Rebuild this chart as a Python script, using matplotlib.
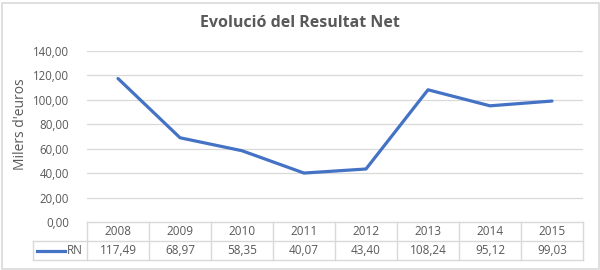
import matplotlib
matplotlib.use("Agg")
import matplotlib.pyplot as plt
from matplotlib.patches import Rectangle
from matplotlib.lines import Line2D

years = ["2008", "2009", "2010", "2011", "2012", "2013", "2014", "2015"]
rn = [117.49, 68.97, 58.35, 40.07, 43.40, 108.24, 95.12, 99.03]
series_name = "RN"
title = "Evolució del Resultat Net"
ylabel = "Milers d'euros"
yticks = [0, 20, 40, 60, 80, 100, 120, 140]

W, H = 600, 270
LINE_C = "#4472C4"
GRID_C = "#D9D9D9"
TXT_C = "#595959"
FONT = "Open Sans"

fig = plt.figure(figsize=(6, 2.7), dpi=100)
fig.patch.set_facecolor("white")

def fx(px): return px / W
def fy(py): return 1 - py / H

# outer border
fig.add_artist(Rectangle((fx(1.5), fy(268.5)), fx(597), 266 / H, transform=fig.transFigure,
                         fill=False, edgecolor="#D9D9D9", linewidth=1.2))

left, right, top, bottom = 87, 583, 51, 222
ax = fig.add_axes([fx(left), fy(bottom), (right - left) / W, (bottom - top) / H])
x = list(range(len(years)))
ax.plot(x, rn, color=LINE_C, linewidth=2.3, solid_capstyle="round", zorder=3)
ax.set_xlim(-0.5, len(years) - 0.5)
ax.set_ylim(0, 140)
ax.set_yticks(yticks)
ax.set_yticklabels([f"{v:.2f}".replace(".", ",") for v in yticks], fontsize=8.3,
                   color=TXT_C, fontfamily=FONT)
ax.tick_params(axis="y", length=0, pad=13)
ax.set_xticks([])
for s in ax.spines.values():
    s.set_visible(False)
for v in yticks[1:]:
    ax.axhline(v, color=GRID_C, linewidth=0.9, zorder=1)

fig.text(fx(300), fy(23), title, ha="center", va="center", fontsize=11.5,
         fontweight="bold", color=TXT_C, fontfamily=FONT)
fig.text(fx(21), fy(124), ylabel, ha="center", va="center", rotation=90,
         fontsize=10, color=TXT_C, fontfamily=FONT)

# data table
r0, r1, r2 = 222, 241, 260
lx = 33
col_w = (right - left) / len(years)
def hl(y, x0, x1):
    fig.add_artist(Line2D([fx(x0), fx(x1)], [fy(y), fy(y)], color=GRID_C, linewidth=1,
                          transform=fig.transFigure))
def vl(xp, y0, y1):
    fig.add_artist(Line2D([fx(xp), fx(xp)], [fy(y0), fy(y1)], color=GRID_C, linewidth=1,
                          transform=fig.transFigure))
hl(r0, left, right)
hl(r1, lx, right)
hl(r2, lx, right)
vl(lx, r1, r2)
for i in range(len(years) + 1):
    vl(left + i * col_w, r0, r2)
for i, (yr, v) in enumerate(zip(years, rn)):
    cx = left + (i + 0.5) * col_w
    fig.text(fx(cx), fy((r0 + r1) / 2), yr, ha="center", va="center", fontsize=8.5,
             color=TXT_C, fontfamily=FONT)
    fig.text(fx(cx), fy((r1 + r2) / 2), f"{v:.2f}".replace(".", ","), ha="center",
             va="center", fontsize=8.5, color=TXT_C, fontfamily=FONT)
fig.add_artist(Line2D([fx(37), fx(65)], [fy(250.5), fy(250.5)], color=LINE_C, linewidth=2.3,
                      transform=fig.transFigure))
fig.text(fx(67), fy(250.5), series_name, ha="left", va="center", fontsize=8.5,
         color=TXT_C, fontfamily=FONT)

fig.savefig("out.png", dpi=100, facecolor="white")
